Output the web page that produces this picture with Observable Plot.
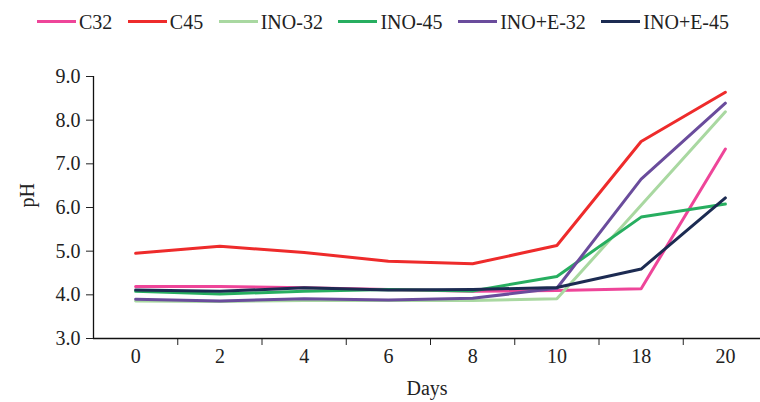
<!DOCTYPE html>
<html>
<head>
<meta charset="utf-8">
<script src="https://cdn.jsdelivr.net/npm/d3@7"></script>
<script src="https://cdn.jsdelivr.net/npm/@observablehq/plot@0.6"></script>
<style>
  html, body { margin: 0; padding: 0; background: #fff; }
  body { width: 760px; height: 402px; overflow: hidden; font-family: "Liberation Serif", serif; }
  #legend { height: 45px; display: flex; align-items: center; padding-left: 37px; gap: 15.5px; box-sizing: border-box; padding-bottom: 0px; }
  .item { display: flex; align-items: center; font-size: 20px; color: #222; }
  .sw { width: 39px; height: 3px; margin-right: 3px; position: relative; top: -1px; }
  #chart svg { display: block; }
</style>
</head>
<body>
<div id="legend"></div>
<div id="chart"></div>
<script>
const days = ["0", "2", "4", "6", "8", "10", "18", "20"];
const seriesNames = ["C32", "C45", "INO-32", "INO-45", "INO+E-32", "INO+E-45"];
const colors = ["#ee4599", "#ee2b2b", "#a9d8a1", "#27ae60", "#6a4c9c", "#1c2b52"];
const C32 = [4.19, 4.19, 4.16, 4.12, 4.08, 4.10, 4.14, 7.34];
const C45 = [4.95, 5.11, 4.97, 4.77, 4.71, 5.13, 7.51, 8.64];
const INO32 = [3.86, 3.85, 3.87, 3.87, 3.87, 3.91, 6.05, 8.19];
const INO45 = [4.08, 4.02, 4.08, 4.12, 4.09, 4.42, 5.78, 6.08];
const INOE32 = [3.90, 3.86, 3.91, 3.88, 3.92, 4.15, 6.65, 8.39];
const INOE45 = [4.11, 4.08, 4.16, 4.11, 4.12, 4.17, 4.59, 6.22];
const yTicks = [3, 4, 5, 6, 7, 8, 9];

const seriesValues = [C32, C45, INO32, INO45, INOE32, INOE45];
const data = [];
seriesNames.forEach((name, s) => {
  seriesValues[s].forEach((v, i) => data.push({series: name, i, day: days[i], ph: v}));
});
const idx = days.map((d, i) => i);
const bounds = days.slice(1).map((d, i) => i + 0.5);

// legend
const legend = document.getElementById("legend");
seriesNames.forEach((name, s) => {
  const it = document.createElement("div");
  it.className = "item";
  const sw = document.createElement("span");
  sw.className = "sw";
  sw.style.background = colors[s];
  const t = document.createElement("span");
  t.textContent = name;
  it.appendChild(sw); it.appendChild(t);
  legend.appendChild(it);
});

const chart = Plot.plot({
  width: 760,
  height: 357,
  marginLeft: 93,
  marginRight: 0,
  marginTop: 31,
  marginBottom: 64,
  style: {fontFamily: "Liberation Serif, serif", fontSize: "20px", color: "#222", background: "#fff"},
  x: {domain: [-0.5, days.length - 0.5], range: [93, 767], ticks: bounds, tickFormat: () => "", tickSize: 7, label: null},
  y: {domain: [yTicks[0], yTicks[yTicks.length - 1]], ticks: yTicks, tickFormat: d3.format(".1f"), tickSize: 7, tickPadding: 6, label: null},
  color: {domain: seriesNames, range: colors},
  marks: [
    Plot.ruleY([yTicks[0]], {stroke: "#111", strokeWidth: 1.3}),
    Plot.ruleX([-0.5], {stroke: "#111", strokeWidth: 1.3}),
    Plot.line(data, {x: "i", y: "ph", z: "series", stroke: "series", strokeWidth: 3, curve: "linear"}),
    Plot.text(idx, {x: d => d, text: d => days[d], frameAnchor: "bottom", dy: 24, fontSize: 20, fill: "#222"}),
    Plot.text(["Days"], {frameAnchor: "bottom", dy: 56, fontSize: 20, fill: "#222"}),
    Plot.text(["pH"], {frameAnchor: "left", dx: -66, rotate: -90, fontSize: 20, fill: "#222"})
  ]
});
document.getElementById("chart").appendChild(chart);
</script>
</body>
</html>
